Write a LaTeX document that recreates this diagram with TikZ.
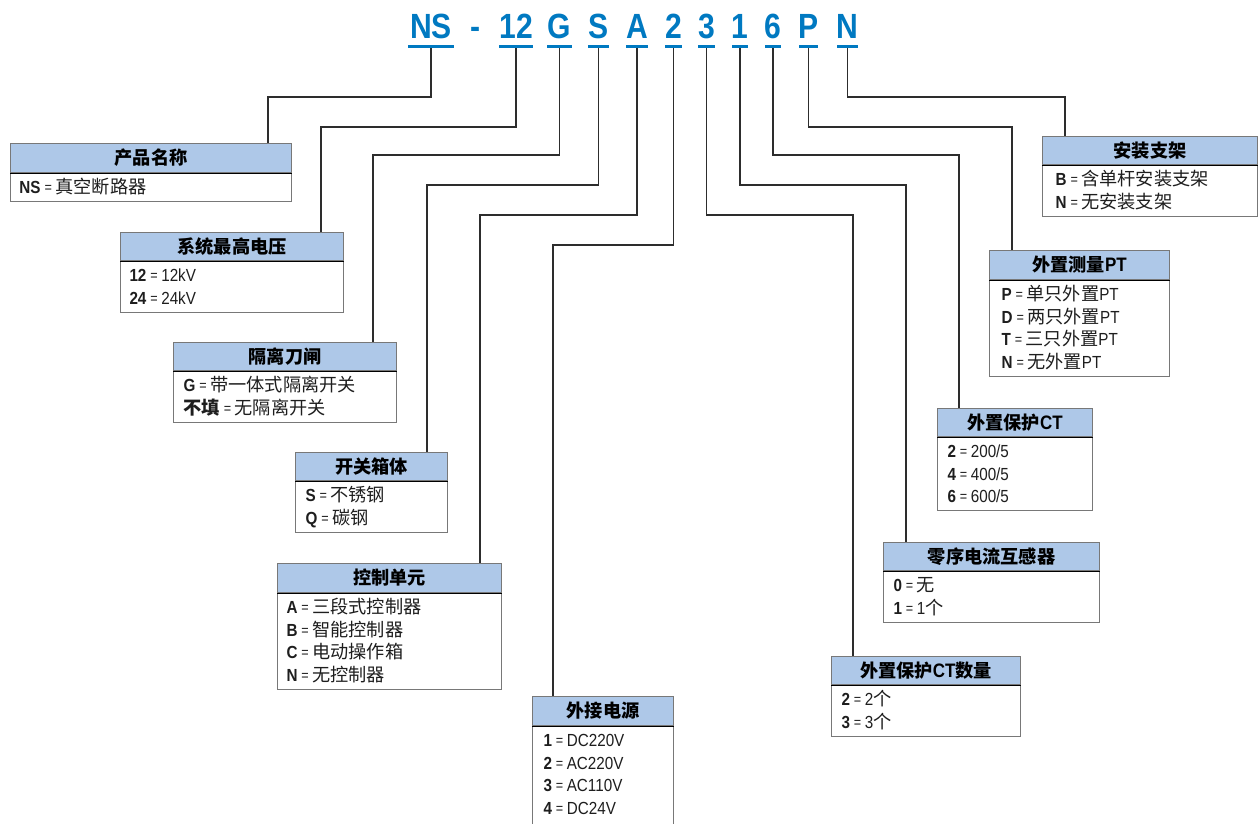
\documentclass[tikz,border=0pt]{standalone}
\usepackage{fontspec}
\setmainfont{Liberation Sans}[FakeStretch=0.87]
\newfontfamily\cjk{Noto Sans CJK SC}[Scale=1.04]
\newfontfamily\codefont{Liberation Sans}[FakeStretch=0.86]
\definecolor{hdrblue}{RGB}{174,200,232}
\definecolor{codeblue}{RGB}{0,121,193}
\definecolor{boxgray}{RGB}{120,120,120}
\definecolor{linegray}{RGB}{45,45,45}
\definecolor{txt}{RGB}{30,30,30}
\newcommand\mystrut{\rule[-3pt]{0pt}{19pt}}
\newcommand\eqs{\hspace{4pt}\raisebox{0.8pt}{\fontsize{14.5}{14}\selectfont=}\hspace{3.5pt}}
\newcommand\kv[2]{\mystrut{\textbf{#1}}\eqs{#2}}
\newcommand\hl[1]{{\fontsize{19.5}{20}\selectfont #1}}
\tikzset{
  hdr/.style={draw=boxgray, fill=hdrblue, line width=1pt, inner sep=0pt,
    anchor=north west, font=\fontsize{17.5}{20}\selectfont\bfseries, text=black},
  bdy/.style={draw=boxgray, fill=white, line width=1pt, inner ysep=5pt,
    anchor=north west, align=left, font=\fontsize{17.5}{22.5}\selectfont, text=txt},
  sepline/.style={draw=black, line width=1pt},
  code/.style={text=codeblue, font=\codefont\fontsize{35}{40}\selectfont\bfseries, anchor=base, inner sep=0pt},
  uline/.style={fill=codeblue, inner sep=0pt, minimum height=3pt},
  conn/.style={draw=linegray, line width=1.4pt}
}
% name, x, y, width, header height, text width, title, lines, xsep
\newcommand\ibox[9]{%
  \node[bdy, inner xsep=#9pt, text width=#6pt] (#1b) at (#2,#3+#5) {#8};
  \node[hdr, minimum width=#4pt, minimum height=#5pt] (#1) at (#2,#3) {#7};
  \draw[sepline] (#1.south west) -- (#1.south east);
}
\begin{document}
\begin{tikzpicture}[x=1pt,y=-1pt]
\useasboundingbox (0,0) rectangle (1259,823);
% code letters
\node[code] (cNS) at (431,38) {NS};
\node[code] (cdash) at (476,38) {-};
\node[code] (c12) at (516,38) {12};
\node[code] (cG) at (559.5,38) {G};
\node[code] (cS) at (598.5,38) {S};
\node[code] (cA) at (637,38) {A};
\node[code] (c2) at (673.5,38) {2};
\node[code] (c3) at (706.5,38) {3};
\node[code] (c1) at (740,38) {1};
\node[code] (c6) at (773,38) {6};
\node[code] (cP) at (808.5,38) {P};
\node[code] (cN) at (847.5,38) {N};
% underlines
\node[uline, minimum width=46pt] (uNS) at (431,46.5) {};
\node[uline, minimum width=34pt] (u12) at (516,46.5) {};
\node[uline, minimum width=25pt] (uG) at (559.5,46.5) {};
\node[uline, minimum width=21pt] (uS) at (598.5,46.5) {};
\node[uline, minimum width=22pt] (uA) at (637,46.5) {};
\node[uline, minimum width=17pt] (u2) at (673.5,46.5) {};
\node[uline, minimum width=17pt] (u3) at (706.5,46.5) {};
\node[uline, minimum width=16pt] (u1) at (740,46.5) {};
\node[uline, minimum width=16pt] (u6) at (773,46.5) {};
\node[uline, minimum width=19pt] (uP) at (808.5,46.5) {};
\node[uline, minimum width=21pt] (uN) at (847.5,46.5) {};
% elbow coordinates
\coordinate (k1) at (268,97);
\coordinate (k2) at (321,127);
\coordinate (k3) at (373,155);
\coordinate (k4) at (427,185);
\coordinate (k5) at (480,215);
\coordinate (k6) at (553,245);
\coordinate (k7) at (853,215);
\coordinate (k8) at (906,185);
\coordinate (k9) at (959,155);
\coordinate (k10) at (1012,127);
\coordinate (k11) at (1065,97);
% boxes
\ibox{b1}{10}{143}{281}{29}{263}{{\cjk 产品名称}}{\kv{NS}{\cjk 真空断路器}}{9}
\ibox{b2}{120}{232}{223}{28}{205}{{\cjk 系统最高电压}}{\kv{12}{12kV}\\\kv{24}{24kV}}{9}
\ibox{b3}{173}{342}{223}{28}{203}{{\cjk 隔离刀闸}}{\kv{G}{\cjk 带一体式隔离开关}\\\kv{\cjk 不填}{\cjk 无隔离开关}}{10}
\ibox{b4}{295}{452}{152}{28}{132}{{\cjk 开关箱体}}{\kv{S}{\cjk 不锈钢}\\\kv{Q}{\cjk 碳钢}}{10}
\ibox{b5}{277}{563}{224}{29}{206}{{\cjk 控制单元}}{\kv{A}{\cjk 三段式控制器}\\\kv{B}{\cjk 智能控制器}\\\kv{C}{\cjk 电动操作箱}\\\kv{N}{\cjk 无控制器}}{9}
\ibox{b6}{532}{696}{141}{29}{119}{{\cjk 外接电源}}{\kv{1}{DC220V}\\\kv{2}{AC220V}\\\kv{3}{AC110V}\\\kv{4}{DC24V}\\\mystrut}{11}
\ibox{b7}{831}{656}{189}{28}{169}{{\cjk 外置保护}\hl{CT}{\cjk 数量}}{\kv{2}{2{\cjk 个}}\\\kv{3}{3{\cjk 个}}}{10}
\ibox{b8}{883}{542}{216}{28}{196}{{\cjk 零序电流互感器}}{\kv{0}{\cjk 无}\\\kv{1}{1{\cjk 个}}}{10}
\ibox{b9}{937}{408}{155}{28}{135}{{\cjk 外置保护}\hl{CT}}{\kv{2}{200/5}\\\kv{4}{400/5}\\\kv{6}{600/5}}{10}
\ibox{b10}{989}{250}{180}{29}{156}{{\cjk 外置测量}\hl{PT}}{\kv{P}{{\cjk 单只外置}PT}\\\kv{D}{{\cjk 两只外置}PT}\\\kv{T}{{\cjk 三只外置}PT}\\\kv{N}{{\cjk 无外置}PT}}{12}
\ibox{b11}{1042}{136}{215}{28}{189}{{\cjk 安装支架}}{\kv{B}{\cjk 含单杆安装支架}\\\kv{N}{\cjk 无安装支架}}{13}
% connectors
\draw[conn] (uNS.south) |- (k1) -- (k1 |- b1.north);
\draw[conn] (u12.south) |- (k2) -- (k2 |- b2.north);
\draw[conn] (uG.south) |- (k3) -- (k3 |- b3.north);
\draw[conn] (uS.south) |- (k4) -- (k4 |- b4.north);
\draw[conn] (uA.south) |- (k5) -- (k5 |- b5.north);
\draw[conn] (u2.south) |- (k6) -- (k6 |- b6.north);
\draw[conn] (u3.south) |- (k7) -- (k7 |- b7.north);
\draw[conn] (u1.south) |- (k8) -- (k8 |- b8.north);
\draw[conn] (u6.south) |- (k9) -- (k9 |- b9.north);
\draw[conn] (uP.south) |- (k10) -- (k10 |- b10.north);
\draw[conn] (uN.south) |- (k11) -- (k11 |- b11.north);
\end{tikzpicture}
\end{document}
